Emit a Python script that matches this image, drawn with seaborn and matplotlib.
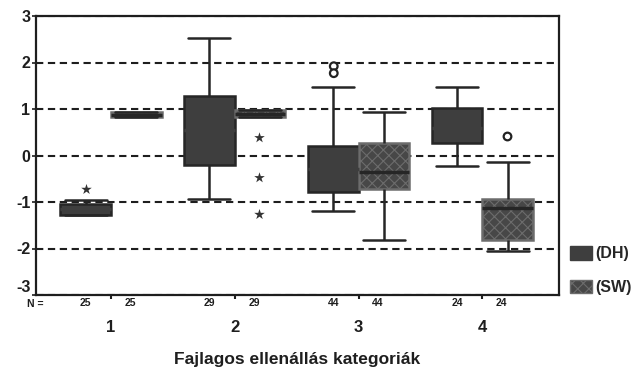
import matplotlib
matplotlib.use('Agg')
import matplotlib.pyplot as plt
import seaborn as sns
import pandas as pd
from matplotlib.patches import Patch

# ---- data ----
categories = ['1', '2', '3', '4']
groups = ['(DH)', '(SW)']
n_dh = [25, 29, 44, 24]
n_sw = [25, 29, 44, 24]

# core values per box: lower whisker, Q1, median, Q3, upper whisker
dh_core = {
    '1': [-1.27, -1.27, -1.16, -1.04, -0.95],
    '2': [-0.93, -0.21, 0.55, 1.29, 2.53],
    '3': [-1.20, -0.79, -0.30, 0.21, 1.47],
    '4': [-0.23, 0.26, 0.60, 1.03, 1.48],
}
sw_core = {
    '1': [0.83, 0.83, 0.88, 0.93, 0.93],
    '2': [0.83, 0.83, 0.90, 0.98, 0.98],
    '3': [-1.81, -0.73, -0.35, 0.26, 0.93],
    '4': [-2.06, -1.82, -1.12, -0.93, -0.14],
}
# extreme values (asterisks) and outliers (circles)
extreme_cat = ['1', '2', '2', '2']
extreme_grp = ['(DH)', '(SW)', '(SW)', '(SW)']
extreme_val = [-0.71, 0.38, -0.48, -1.27]
outlier_cat = ['3', '3', '4']
outlier_grp = ['(DH)', '(DH)', '(SW)']
outlier_val = [1.92, 1.77, 0.42]

y_ticks = [-3, -2, -1, 0, 1, 2, 3]
x_title = 'Fajlagos ellenállás kategoriák'

# ---- build tables ----
rows = []
for c in categories:
    for v in dh_core[c]:
        rows.append((c, '(DH)', v))
    for v in sw_core[c]:
        rows.append((c, '(SW)', v))
df = pd.DataFrame(rows, columns=['kat', 'tipus', 'ertek'])
df_ext = pd.DataFrame({'kat': extreme_cat, 'tipus': extreme_grp, 'ertek': extreme_val})
df_out = pd.DataFrame({'kat': outlier_cat, 'tipus': outlier_grp, 'ertek': outlier_val})

sns.set_theme(style='white')
plt.rcParams['font.family'] = ['Liberation Sans', 'DejaVu Sans']
plt.rcParams['hatch.linewidth'] = 0.8

fig = plt.figure(figsize=(6.44, 3.72), dpi=100)
ax = fig.add_axes([36 / 644, 1 - 295 / 372, (559 - 36) / 644, (295 - 16) / 372])

dh_col = '#3e3e3e'
sw_col = '#474747'
hatch_col = '#6c6c6c'
line_col = '#262626'
ink = '#1e1e1e'

sns.boxplot(data=df, x='kat', y='ertek', hue='tipus', order=categories,
            hue_order=groups, palette={'(DH)': dh_col, '(SW)': sw_col},
            width=0.82, gap=0, whis=(0, 100), linecolor=line_col,
            linewidth=1.8, fliersize=0, saturation=1, legend=False, ax=ax,
            medianprops=dict(color='#262626', linewidth=2.5))

# texture on SW boxes, DH medians blend in, wider caps
for k, cont in enumerate(ax.containers):
    if k == 1:
        for b in cont.boxes:
            b.set_hatch('xxx')
            b.set_edgecolor(hatch_col)
    else:
        for m in cont.medians:
            m.set_color(dh_col)
    for cap in cont.caps:
        xd = cap.get_xdata()
        mid = (xd[0] + xd[1]) / 2
        half = (xd[1] - xd[0]) / 2 * 1.65
        cap.set_xdata([mid - half, mid + half])

sns.stripplot(data=df_ext, x='kat', y='ertek', hue='tipus', order=categories,
              hue_order=groups, dodge=True, jitter=False, marker='*', size=8,
              palette={'(DH)': '#333333', '(SW)': '#333333'}, legend=False,
              ax=ax, zorder=5)
sns.stripplot(data=df_out, x='kat', y='ertek', hue='tipus', order=categories,
              hue_order=groups, dodge=True, jitter=False, marker='o', size=5.5,
              palette={'(DH)': 'white', '(SW)': 'white'}, edgecolor='#222222',
              linewidth=1.6, legend=False, ax=ax, zorder=5)

ax.set_xlim(-0.606, 3.62)
ax.set_ylim(-3, 3)
ax.set_yticks(y_ticks)
ax.set_yticklabels([str(t) for t in y_ticks], fontsize=11.5, fontweight='bold')
# the lowest label sits a little above the axis corner, as in the reference
ax.yaxis.get_major_ticks()[0].label1.set_verticalalignment('bottom')

# dashed reference lines
ax.yaxis.grid(True, linestyle=(0, (3.5, 2.2)), color=ink, linewidth=1.5)
ax.xaxis.grid(False)
ax.set_axisbelow(True)

for s in ax.spines.values():
    s.set_color(ink)
    s.set_linewidth(1.6)

ax.tick_params(axis='y', length=3, width=1.2, pad=1, left=True, colors=ink)
ax.tick_params(axis='x', length=3, width=1.5, pad=15, bottom=True,
               labelsize=12, colors=ink)
for t in ax.get_xticklabels():
    t.set_fontweight('bold')
ax.set_ylabel('')
ax.set_xlabel(x_title, fontsize=12.5, fontweight='bold', labelpad=12, color=ink)

# N counts
trans = ax.get_xaxis_transform()
for i, c in enumerate(categories):
    ax.text(i - 0.205, -0.029, str(n_dh[i]), transform=trans, ha='center',
            va='center', fontsize=7.5, fontweight='bold', color=ink)
    ax.text(i + 0.205 - 0.05, -0.029, str(n_sw[i]), transform=trans, ha='center',
            va='center', fontsize=7.5, fontweight='bold', color=ink)
ax.text(-0.002, -0.031, 'N =', transform=ax.transAxes, ha='center',
        va='center', fontsize=7.5, fontweight='bold', color=ink)

handles = [Patch(facecolor=dh_col, edgecolor=dh_col),
           Patch(facecolor=sw_col, edgecolor=hatch_col, hatch='xxx')]
fig.legend(handles, groups, loc='upper left', bbox_to_anchor=(0.875, 0.355),
           frameon=False, handlelength=1.4, handleheight=0.9,
           handletextpad=0.2, labelspacing=1.15, borderaxespad=0,
           prop={'weight': 'bold', 'size': 11.5})

fig.savefig('out.png', dpi=100)
